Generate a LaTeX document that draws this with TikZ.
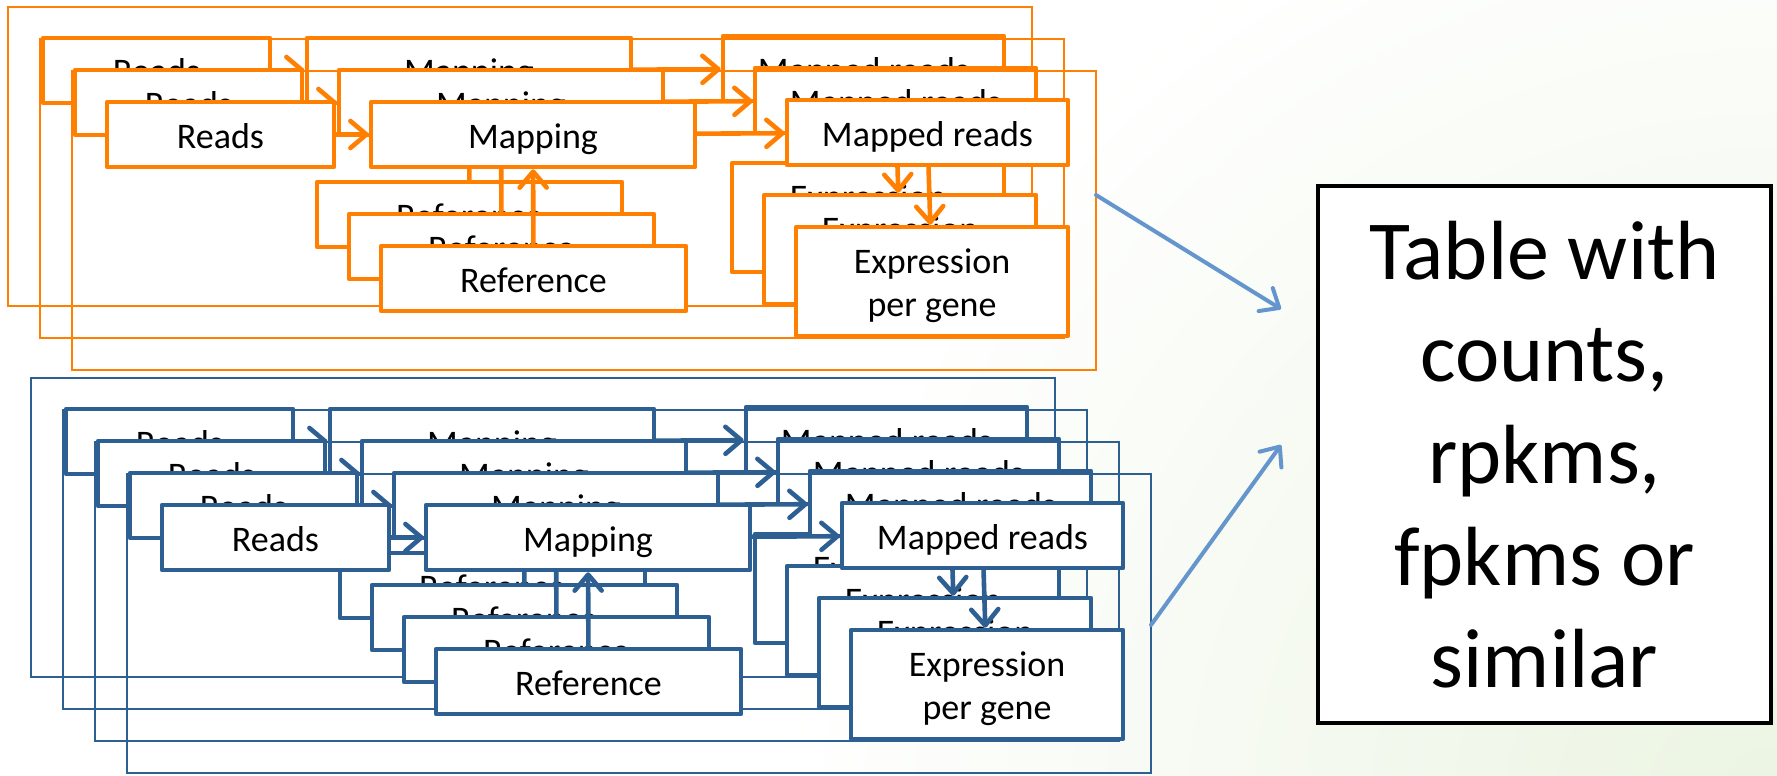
\documentclass[tikz,border=0pt]{standalone}
\usepackage{fontspec}
\setmainfont{Carlito}
\usetikzlibrary{arrows.meta}
\definecolor{og}{HTML}{FF7F00}
\definecolor{bl}{HTML}{2E5F92}
\definecolor{lb}{HTML}{6496CD}
\definecolor{bgg}{HTML}{EBF4E2}
\tikzset{
  framerect/.style={draw=#1, line width=2pt},
  stagebox/.style={draw=#1, fill=white, line width=4.6pt, line join=round, inner sep=0pt,
    minimum height=65pt, font=\fontsize{36}{43}\selectfont, align=center},
  oneline/.style={text height=36pt, text depth=9pt},
  flowarr/.style={draw=#1, line width=4.6pt, line cap=round,
    -{Straight Barb[length=16pt,width=27pt,line join=round,line cap=round]}},
  outarr/.style={draw=lb, line width=4pt, line cap=round,
    -{Straight Barb[length=16pt,width=27pt,line join=round,line cap=round]}},
  tablebox/.style={draw=black, fill=white, line width=4pt, inner sep=0pt,
    minimum width=453pt, minimum height=537pt, align=center,
    font=\fontsize{84}{102}\selectfont}
}
\newcommand{\pipelayer}[4]{%
  \begin{scope}[shift={(#2,#3)}]
    \draw[framerect=#1] (0,0) rectangle (1024,299);
    \node[stagebox=#1, oneline, minimum width=227pt] (#4r) at (148.5,63.5) {Reads};
    \node[stagebox=#1, oneline, minimum width=324pt] (#4m) at (461,63.5) {Mapping};
    \node[stagebox=#1, oneline, minimum width=305pt] (#4f) at (461.5,207.5) {Reference};
    \node[stagebox=#1, oneline, minimum width=281pt] (#4d) at (855.5,61.5) {Mapped reads};
    \node[stagebox=#1, minimum width=272pt, minimum height=109pt] (#4e) at (860,210.5)
      {\rule{0pt}{36pt}Expression\\per gene\rule[-9pt]{0pt}{9pt}};
    \draw[flowarr=#1] (#4r) -- (#4m);
    \draw[flowarr=#1] (#4f) -- (#4m);
    \draw[flowarr=#1] (#4m) -- (#4d);
    \draw[flowarr=#1] (#4d) -- (#4e);
  \end{scope}}
\begin{document}
\begin{tikzpicture}[x=1pt, y=-1pt]
  \useasboundingbox (0,0) rectangle (1777,776);
  \fill[white] (0,0) rectangle (1777,776);
  \begin{scope}
    \clip (0,0) rectangle (1777,776);
    \shade[inner color=bgg, outer color=white] (1777,820) circle (1000);
  \end{scope}
  % orange pipeline, three stacked copies
  \pipelayer{og}{8}{7}{oa}
  \pipelayer{og}{40}{39}{ob}
  \pipelayer{og}{72}{71}{oc}
  % blue pipeline, four stacked copies
  \pipelayer{bl}{31}{378}{ba}
  \pipelayer{bl}{63}{410}{bb}
  \pipelayer{bl}{95}{442}{bc}
  \pipelayer{bl}{127}{474}{bd}
  % result table
  \node[tablebox] (tab) at (1544.5,454.5) {Table with\\counts,\\rpkms,\\fpkms or\\similar};
  \coordinate (ostart) at (1096,195);
  \coordinate (oend) at (1281,309);
  \coordinate (bstart) at (1151,625);
  \coordinate (bend) at (1281,445);
  \draw[outarr] (ostart) -- (oend);
  \draw[outarr] (bstart) -- (bend);
\end{tikzpicture}
\end{document}
